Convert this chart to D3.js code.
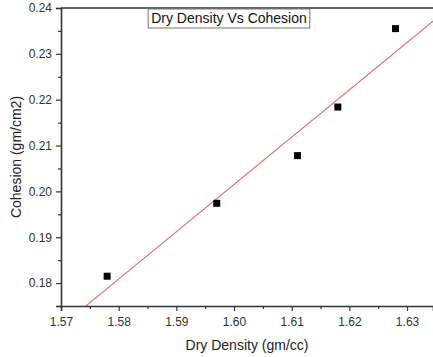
<!DOCTYPE html>
<html>
<head>
<meta charset="utf-8">
<script src="https://cdn.jsdelivr.net/npm/d3@7"></script>
<style>
  body { margin: 0; background: #fff; }
  svg { font-family: "Liberation Sans", Arial, sans-serif; }
</style>
</head>
<body>
<svg id="chart" width="433" height="357"></svg>
<script>
// data
var dryDensity = [1.578, 1.597, 1.611, 1.618, 1.628];
var cohesion = [0.1815, 0.1974, 0.2078, 0.2184, 0.2355];
var xTicks = [1.57, 1.58, 1.59, 1.60, 1.61, 1.62, 1.63];
var yTicks = [0.18, 0.19, 0.20, 0.21, 0.22, 0.23, 0.24];
var title = "Dry Density Vs Cohesion";

var svg = d3.select("#chart");
var padL = 61, padT = 8, padR = 433, padB = 306;

var x = d3.scaleLinear().domain([1.57, 1.6345]).range([padL, padR]);
var y = d3.scaleLinear().domain([0.175, 0.24]).range([padB, padT]);

// linear fit of the points
var mx = d3.mean(dryDensity), my = d3.mean(cohesion);
var sxy = d3.sum(dryDensity, function(d, i) { return (d - mx) * (cohesion[i] - my); });
var sxx = d3.sum(dryDensity, function(d) { return (d - mx) * (d - mx); });
var slope = sxy / sxx, icept = my - slope * mx;

svg.append("defs").append("clipPath").attr("id", "clip")
    .append("rect").attr("x", padL).attr("y", padT)
    .attr("width", padR - padL).attr("height", padB - padT);

svg.append("line")
    .attr("clip-path", "url(#clip)")
    .attr("x1", x(1.56)).attr("y1", y(icept + slope * 1.56))
    .attr("x2", x(1.64)).attr("y2", y(icept + slope * 1.64))
    .attr("stroke", "#d9706c").attr("stroke-width", 1.1);

var pts = dryDensity.map(function(d, i) { return [d, cohesion[i]]; });
svg.selectAll("rect.pt").data(pts).enter()
    .append("rect").attr("class", "pt")
    .attr("x", function(d) { return x(d[0]) - 3.5; })
    .attr("y", function(d) { return y(d[1]) - 3.5; })
    .attr("width", 7).attr("height", 7)
    .attr("fill", "#000");

// axes
var xMinor = d3.range(1.575, 1.635, 0.01);
var yMinor = d3.range(0.175, 0.24, 0.01);

svg.append("g").attr("transform", "translate(0," + padB + ")")
    .call(d3.axisBottom(x).tickValues(xTicks).tickFormat(d3.format(".2f")).tickSize(5).tickPadding(6));
svg.append("g").attr("transform", "translate(0," + padB + ")")
    .call(d3.axisBottom(x).tickValues(xMinor).tickFormat("").tickSize(3))
    .select(".domain").remove();

svg.append("g").attr("transform", "translate(" + padL + ",0)")
    .call(d3.axisLeft(y).tickValues(yTicks).tickFormat(d3.format(".2f")).tickSize(5).tickPadding(4));
svg.append("g").attr("transform", "translate(" + padL + ",0)")
    .call(d3.axisLeft(y).tickValues(yMinor).tickFormat("").tickSize(3))
    .select(".domain").remove();

svg.selectAll(".tick line").attr("stroke", "#333").attr("stroke-width", 1.2);
svg.selectAll(".domain").attr("stroke", "#333").attr("stroke-width", 1.6);
svg.selectAll(".tick text").attr("font-size", 12).attr("fill", "#333")
    .attr("font-family", "Liberation Sans, Arial, sans-serif");

// top border
svg.append("line")
    .attr("x1", padL).attr("x2", padR).attr("y1", padT).attr("y2", padT)
    .attr("stroke", "#333").attr("stroke-width", 1.6);

// axis titles
svg.append("text")
    .attr("x", (padL + padR) / 2).attr("y", 350)
    .attr("text-anchor", "middle").attr("font-size", 14).attr("fill", "#222")
    .text("Dry Density (gm/cc)");
svg.append("text")
    .attr("transform", "translate(21," + ((padT + padB) / 2) + ") rotate(-90)")
    .attr("text-anchor", "middle").attr("font-size", 14).attr("fill", "#222")
    .text("Cohesion (gm/cm2)");

// title box
var tg = svg.append("g");
var tt = tg.append("text")
    .attr("x", 229).attr("y", 23)
    .attr("text-anchor", "middle").attr("font-size", 14).attr("fill", "#111")
    .text(title);
var bb = tt.node().getBBox();
tg.insert("rect", "text")
    .attr("x", bb.x - 3).attr("y", 9).attr("width", bb.width + 6).attr("height", 19)
    .attr("fill", "#fff").attr("stroke", "#777").attr("stroke-width", 1);
</script>
</body>
</html>
